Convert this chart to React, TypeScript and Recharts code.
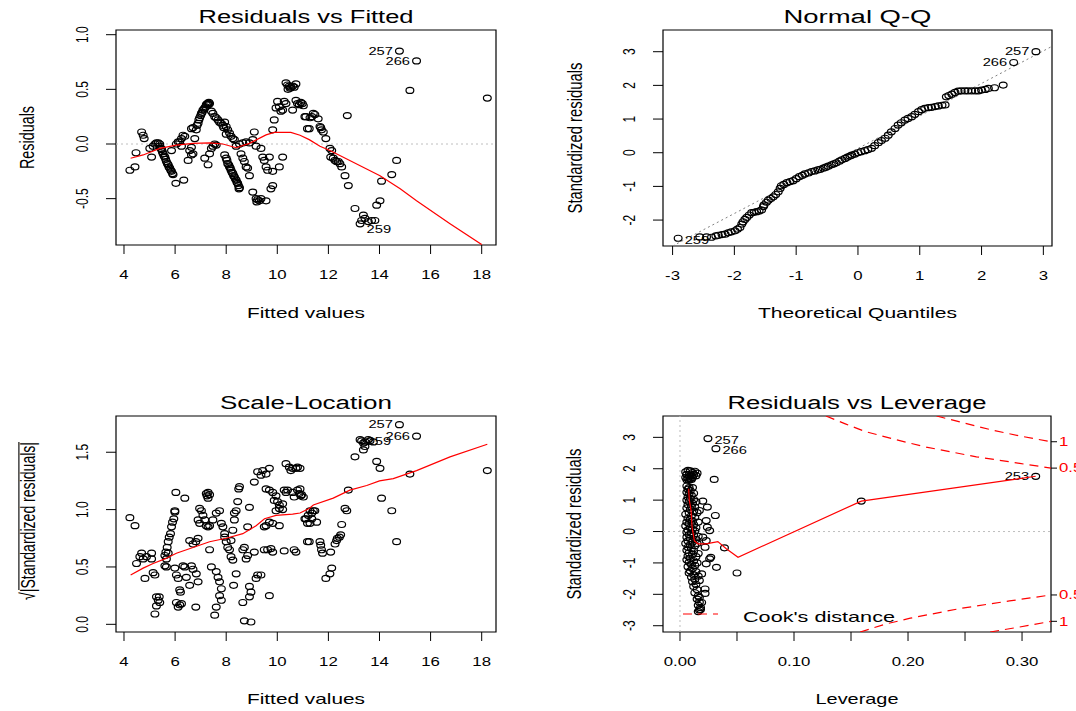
import React from "react";
import { ReferenceArea, ReferenceLine, Scatter, ScatterChart, XAxis, YAxis } from "recharts";

const W = 1076;
const H = 711;
const FONT = "'Liberation Sans', Arial, Helvetica, sans-serif";
const SX = 1.4; // the reference is stretched horizontally

// ---- Residuals vs Fitted: [fitted, residual]
const rvfPoints: [number, number][] = [
  [4.23, -0.24], [4.43, -0.21], [4.47, -0.08], [4.69, 0.11], [4.75, 0.08], [4.79, 0.05], [5.08, -0.12],
  [5.01, -0.04], [5.14, -0.02], [5.21, 0.0], [5.27, 0.01], [5.34, 0.01], [5.4, 0.0],
  [5.4, -0.02], [5.45, -0.04], [5.47, -0.05], [5.5, -0.07], [5.53, -0.09], [5.57, -0.11], [5.6, -0.12], [5.63, -0.14],
  [5.66, -0.16], [5.7, -0.18], [5.73, -0.19], [5.76, -0.21], [5.79, -0.22], [5.83, -0.24], [5.86, -0.25], [5.9, -0.27], [5.92, -0.28],
  [6.03, -0.36], [6.34, -0.33],
  [5.86, -0.06], [6.05, 0.0], [6.12, 0.02], [6.18, 0.02], [6.25, 0.05], [6.31, 0.08], [6.38, 0.07], [6.25, -0.02],
  [6.51, -0.15], [6.64, -0.1], [6.7, -0.09], [6.57, -0.06], [6.64, -0.03], [6.64, 0.14], [6.7, 0.15],
  [6.77, 0.05], [6.83, 0.13], [6.86, 0.17], [6.9, 0.19], [6.93, 0.22], [6.96, 0.24], [7.0, 0.26], [7.03, 0.28], [7.06, 0.29],
  [7.09, 0.31], [7.13, 0.32], [7.16, 0.33], [7.2, 0.34], [7.22, 0.36], [7.26, 0.37], [7.29, 0.37], [7.32, 0.38], [7.35, 0.37], [7.3, 0.36],
  [7.16, -0.13], [7.29, -0.19], [7.35, -0.09], [7.42, -0.04], [7.48, -0.02], [7.55, 0.0], [7.61, -0.01],
  [7.42, 0.3], [7.48, 0.28], [7.55, 0.25], [7.61, 0.24], [7.68, 0.22], [7.74, 0.2], [7.81, 0.19], [7.87, 0.17], [7.94, 0.2],
  [8.0, 0.16], [7.9, 0.15], [8.06, 0.13], [8.13, 0.1], [8.19, 0.07], [8.26, 0.05], [8.32, 0.04], [8.0, 0.09],
  [7.94, -0.1], [8.0, -0.13], [8.03, -0.15], [8.06, -0.18], [8.1, -0.19], [8.13, -0.21], [8.16, -0.22], [8.19, -0.24], [8.23, -0.26],
  [8.26, -0.27], [8.29, -0.29], [8.32, -0.3], [8.36, -0.32], [8.39, -0.33], [8.42, -0.35], [8.45, -0.36], [8.48, -0.38], [8.52, -0.4], [8.5, -0.41],
  [8.39, -0.02], [8.52, 0.0], [8.65, 0.01], [8.78, 0.02], [8.91, 0.01], [9.04, 0.04], [9.1, 0.11],
  [8.58, -0.09], [8.65, -0.13], [8.71, -0.16], [8.78, -0.21], [8.84, -0.22], [8.91, -0.29],
  [9.04, -0.44], [9.17, -0.5], [9.23, -0.51], [9.3, -0.52], [9.36, -0.5], [9.56, -0.52], [9.2, -0.53],
  [9.43, -0.12], [9.49, -0.15], [9.56, -0.21], [9.62, -0.24], [9.69, -0.12], [9.82, -0.25],
  [9.82, -0.38], [9.75, -0.41], [9.36, -0.04], [9.17, -0.02],
  [9.82, 0.13], [9.88, 0.22], [9.95, 0.33], [10.01, 0.39], [10.08, 0.34], [10.14, 0.3], [10.21, 0.31], [10.27, 0.39], [10.34, 0.37],
  [10.21, -0.12], [10.08, -0.21],
  [10.34, 0.56], [10.4, 0.54], [10.47, 0.53], [10.53, 0.52], [10.6, 0.53], [10.66, 0.52], [10.73, 0.55], [10.5, 0.51], [10.42, 0.5],
  [10.73, 0.4], [10.79, 0.37], [10.86, 0.36], [10.6, 0.31], [11.12, 0.25], [11.18, 0.14],
  [10.92, 0.38], [10.98, 0.37], [11.02, 0.35], [11.08, 0.25], [11.25, 0.14], [11.28, 0.24], [11.35, 0.25], [11.41, 0.28],
  [11.47, 0.27], [11.6, 0.23], [11.67, 0.16], [11.7, 0.15], [11.73, 0.13], [11.8, 0.11], [11.9, 0.05],
  [12.06, -0.04], [12.13, -0.06], [12.09, -0.12], [12.19, -0.13], [12.26, -0.15], [12.32, -0.16], [12.39, -0.16], [12.45, -0.18],
  [12.52, -0.21], [12.65, -0.29], [12.78, -0.38], [12.74, 0.26],
  [13.04, -0.59], [13.3, -0.7], [13.37, -0.65], [13.43, -0.68], [13.56, -0.71], [13.69, -0.7], [13.82, -0.7], [13.89, -0.56], [14.02, -0.52],
  [14.08, -0.34], [14.48, -0.28], [14.67, -0.15], [15.19, 0.49], [18.22, 0.42],
];
const rvfOutliers: [number, number, string][] = [[14.78, 0.85, "257"], [15.45, 0.76, "266"], [13.24, -0.73, "259"]];
const rvfSmooth: [number, number][] = [
  [4.26, -0.13], [4.75, -0.1], [5.4, -0.04], [6.05, -0.01], [6.7, 0.005], [7.35, 0.01], [7.87, 0.0], [8.39, -0.034], [8.91, 0.006],
  [9.56, 0.083], [9.88, 0.107], [10.53, 0.107], [10.89, 0.08], [11.25, 0.04], [11.67, -0.02], [12.06, -0.06], [14.02, -0.29],
  [14.81, -0.41], [15.45, -0.52], [16.76, -0.73], [18.0, -0.92],
];

// ---- Normal Q-Q: [theoretical quantile, standardized residual]
const qqPoints: [number, number][] = [
  [-2.56, -2.5], [-2.45, -2.5], [-2.37, -2.51], [-2.3, -2.47], [-2.26, -2.45], [-2.2, -2.43], [-2.15, -2.42], [-2.1, -2.38], [-2.05, -2.35],
  [-1.99, -2.32], [-1.95, -2.27], [-1.91, -2.22], [-1.88, -2.12], [-1.86, -2.05], [-1.83, -1.98], [-1.8, -1.92], [-1.76, -1.85],
  [-1.72, -1.78], [-1.68, -1.77], [-1.64, -1.75], [-1.6, -1.73], [-1.56, -1.7], [-1.53, -1.6], [-1.52, -1.55], [-1.48, -1.47],
  [-1.45, -1.41], [-1.41, -1.36], [-1.37, -1.31], [-1.33, -1.24], [-1.29, -1.16], [-1.26, -1.06], [-1.24, -0.98], [-1.2, -0.94],
  [-1.15, -0.89], [-1.1, -0.86], [-1.05, -0.83], [-1.0, -0.77], [-0.95, -0.71], [-0.9, -0.67], [-0.86, -0.63], [-0.8, -0.6],
  [-0.75, -0.56], [-0.7, -0.54], [-0.65, -0.51], [-0.61, -0.49], [-0.56, -0.46], [-0.52, -0.43], [-0.48, -0.4], [-0.43, -0.36],
  [-0.39, -0.33], [-0.35, -0.3], [-0.3, -0.25], [-0.26, -0.21], [-0.21, -0.17], [-0.17, -0.13], [-0.13, -0.1], [-0.1, -0.07],
  [-0.05, -0.04], [0.0, 0.0], [0.05, 0.03], [0.11, 0.06], [0.16, 0.09], [0.22, 0.13], [0.27, 0.21], [0.33, 0.3], [0.38, 0.36],
  [0.44, 0.43], [0.49, 0.52], [0.54, 0.62], [0.6, 0.72], [0.65, 0.82], [0.7, 0.89], [0.76, 0.97], [0.81, 1.02], [0.87, 1.07],
  [0.92, 1.14], [0.98, 1.22], [1.03, 1.28], [1.08, 1.32], [1.14, 1.34], [1.19, 1.35], [1.25, 1.37], [1.3, 1.39], [1.36, 1.41],
  [1.41, 1.42], [1.43, 1.66], [1.47, 1.7], [1.52, 1.74], [1.57, 1.79], [1.62, 1.83], [1.67, 1.84], [1.73, 1.84], [1.78, 1.84],
  [1.84, 1.84], [1.9, 1.84], [1.95, 1.84], [2.0, 1.86], [2.06, 1.88], [2.11, 1.91], [2.21, 1.93], [2.35, 2.01],
];
const qqOutliers: [number, number, string][] = [[2.88, 3.0, "257"], [2.52, 2.68, "266"], [-2.91, -2.54, "259"]];
const qqLine: [number, number][] = [[-3.0, -2.77], [3.14, 3.16]];

// ---- Scale-Location: [fitted, sqrt(|standardized residual|)]
const slPoints: [number, number][] = [
  [4.23, 0.93], [4.43, 0.86], [4.49, 0.53], [4.69, 0.62], [4.75, 0.57], [4.88, 0.59], [5.08, 0.62], [5.08, 0.57], [4.62, 0.59],
  [4.82, 0.4], [5.14, 0.45], [5.21, 0.43], [5.27, 0.24], [5.34, 0.21], [5.4, 0.19], [5.27, 0.16], [5.21, 0.09], [5.38, 0.24],
  [5.6, 0.6], [5.64, 0.63], [5.69, 0.67], [5.73, 0.72], [5.77, 0.76], [5.82, 0.79], [5.86, 0.85], [5.9, 0.89], [5.95, 0.92],
  [5.99, 0.98], [5.99, 0.99], [5.66, 0.57], [5.73, 0.62], [5.6, 0.51], [5.66, 0.5],
  [5.99, 0.49], [6.05, 0.43], [6.12, 0.4], [6.18, 0.3], [6.21, 0.28], [6.25, 0.18], [6.12, 0.15], [6.18, 0.17], [6.05, 0.19],
  [6.03, 1.15], [6.38, 1.1], [6.38, 0.5], [6.44, 0.41], [6.57, 0.34], [6.31, 0.51], [6.64, 0.51], [6.7, 0.48], [6.83, 0.44], [6.9, 0.37],
  [6.81, 0.15], [6.57, 0.73], [6.7, 0.7], [6.81, 0.72], [6.9, 0.75], [6.96, 1.01], [7.03, 0.99], [7.09, 0.95], [7.16, 0.91],
  [7.22, 0.86], [7.29, 0.85], [7.35, 0.86], [6.9, 0.91], [6.96, 0.88],
  [7.22, 1.14], [7.29, 1.15], [7.35, 1.13], [7.29, 1.1], [7.25, 1.12],
  [7.35, 0.65], [7.48, 0.91], [7.61, 0.97], [7.74, 0.99], [7.81, 0.88], [7.87, 0.85], [7.94, 0.79],
  [7.42, 0.5], [7.61, 0.46], [7.68, 0.41], [7.74, 0.37], [7.81, 0.31], [7.74, 0.25], [7.81, 0.21], [7.61, 0.15], [7.55, 0.08],
  [7.94, 0.76], [8.0, 0.72], [8.06, 0.67], [8.13, 0.65], [8.19, 0.59], [8.26, 0.56],
  [8.19, 0.73], [8.26, 0.82], [8.32, 0.91], [8.32, 0.97], [8.39, 0.99], [8.45, 1.07], [8.52, 1.2], [8.49, 1.18],
  [8.29, 0.34], [8.39, 0.44], [8.65, 0.19], [8.71, 0.03], [8.97, 0.02],
  [8.65, 0.65], [8.71, 0.67], [8.78, 0.57], [8.84, 0.6], [8.91, 1.02], [8.84, 0.85],
  [9.1, 1.24], [9.23, 1.33], [9.43, 1.34], [9.56, 1.31], [9.69, 1.36], [9.36, 1.3],
  [9.1, 0.63], [9.17, 0.4], [9.23, 0.43], [9.36, 0.43], [8.91, 0.33], [8.97, 0.28], [8.91, 0.24],
  [9.49, 0.65], [9.62, 0.65], [9.75, 0.66], [9.82, 0.63], [9.69, 0.25], [10.27, 0.64],
  [9.56, 1.18], [9.69, 1.17], [9.82, 1.15], [9.95, 1.12], [9.88, 1.08], [10.01, 1.07], [10.08, 1.04], [10.21, 1.05], [10.27, 1.17],
  [10.34, 1.15], [10.4, 1.17], [10.6, 1.15], [10.66, 1.11], [9.95, 0.99], [10.08, 1.01], [10.21, 1.0],
  [9.49, 0.85], [9.56, 0.86], [9.69, 0.89], [9.82, 0.88], [10.08, 0.86],
  [10.34, 1.4], [10.47, 1.37], [10.6, 1.36], [10.53, 1.34], [10.73, 1.36], [10.79, 1.37],
  [10.79, 1.17], [10.86, 1.14], [10.92, 1.12], [10.66, 0.65], [10.73, 0.63], [11.12, 0.92], [11.18, 0.88], [11.18, 0.72],
  [10.89, 1.36], [10.89, 1.18], [10.95, 1.13], [11.02, 1.11],
  [11.28, 0.99], [11.35, 0.97], [11.41, 0.99], [11.47, 0.99], [11.08, 0.92], [11.28, 0.88], [11.54, 0.89], [11.21, 0.95], [11.35, 0.92],
  [11.25, 0.72], [11.67, 0.72], [11.7, 0.69], [11.73, 0.65], [11.77, 0.62], [12.09, 0.63], [12.13, 0.49], [12.06, 0.44], [11.9, 0.4],
  [12.26, 0.7], [12.35, 0.75], [12.43, 0.76], [12.48, 0.78], [12.32, 0.73], [12.52, 0.87],
  [12.65, 1.01], [12.72, 0.99], [12.78, 1.17], [13.04, 1.46],
  [13.3, 1.6], [13.37, 1.58], [13.43, 1.55], [13.37, 1.52], [13.56, 1.61], [13.63, 1.6], [13.76, 1.59], [13.43, 1.59],
  [13.89, 1.42], [14.02, 1.36], [14.08, 1.1], [14.48, 0.99], [14.67, 0.72], [15.19, 1.31], [18.22, 1.34],
];
const slOutliers: [number, number, string][] = [[14.78, 1.74, "257"], [15.45, 1.64, "266"], [13.24, 1.61, "259"]];
const slSmooth: [number, number][] = [
  [4.26, 0.43], [4.75, 0.49], [5.14, 0.53], [5.6, 0.57], [6.05, 0.62], [6.7, 0.67], [7.35, 0.72], [8.0, 0.75], [8.65, 0.79],
  [9.17, 0.86], [9.5, 0.92], [9.95, 0.95], [10.6, 0.96], [10.89, 0.97], [11.25, 1.01], [11.41, 1.04], [12.19, 1.1], [12.84, 1.17],
  [13.5, 1.21], [14.0, 1.25], [14.54, 1.27], [15.45, 1.34], [16.76, 1.46], [18.22, 1.57],
];

// ---- Residuals vs Leverage: [leverage, standardized residual]
const levPoints: [number, number][] = [
  [0.005, 1.9], [0.007, 1.95], [0.009, 1.93], [0.011, 1.88], [0.013, 1.92], [0.006, 1.82], [0.008, 1.8], [0.01, 1.78], [0.012, 1.82],
  [0.014, 1.78], [0.005, 1.72], [0.007, 1.7], [0.009, 1.68], [0.011, 1.72], [0.006, 1.65], [0.008, 1.63], [0.01, 1.66], [0.015, 1.86],
  [0.006, 1.45], [0.008, 1.4], [0.007, 1.35], [0.009, 1.3], [0.006, 1.25], [0.008, 1.2], [0.01, 1.15], [0.007, 1.1], [0.009, 1.05],
  [0.012, 1.02], [0.006, 1.0], [0.008, 0.95], [0.011, 0.9], [0.007, 0.85], [0.01, 0.8], [0.013, 0.78], [0.006, 0.75], [0.009, 0.7],
  [0.012, 0.65], [0.008, 0.6], [0.005, 0.55], [0.01, 0.5], [0.013, 0.45], [0.007, 0.42], [0.009, 0.38], [0.011, 0.33], [0.006, 0.3],
  [0.008, 0.25], [0.012, 0.22], [0.005, 0.18], [0.009, 0.12], [0.011, 0.08], [0.007, 0.05], [0.013, 0.02], [0.006, -0.02], [0.01, -0.05],
  [0.011, 1.4], [0.012, 1.22], [0.014, 0.95], [0.015, 0.6], [0.016, 0.3], [0.014, 0.12], [0.016, -0.15], [0.015, -0.38],
  [0.008, -0.1], [0.012, -0.12], [0.006, -0.18], [0.009, -0.22], [0.014, -0.25], [0.007, -0.3], [0.011, -0.33], [0.005, -0.38],
  [0.009, -0.42], [0.013, -0.45], [0.007, -0.5], [0.01, -0.55], [0.006, -0.6], [0.012, -0.62], [0.008, -0.68], [0.011, -0.72],
  [0.007, -0.78], [0.014, -0.8], [0.009, -0.85], [0.006, -0.9], [0.012, -0.93], [0.008, -0.98], [0.01, -1.05], [0.013, -1.08],
  [0.007, -1.12], [0.011, -1.18], [0.009, -1.25], [0.014, -1.28], [0.008, -1.32], [0.012, -1.38], [0.01, -1.45], [0.013, -1.52],
  [0.011, -1.6], [0.014, -1.68], [0.012, -1.75], [0.015, -1.85], [0.013, -1.95], [0.016, -2.05], [0.015, -2.15], [0.017, -2.25],
  [0.016, -2.35], [0.018, -2.42], [0.017, -2.5], [0.016, -2.55], [0.018, -2.48], [0.016, -0.7], [0.015, -1.0], [0.016, -1.42],
  [0.02, 0.97], [0.017, 0.67], [0.024, 0.78], [0.031, 0.51], [0.023, 0.35], [0.024, 0.14], [0.026, 0.03], [0.02, -0.18],
  [0.023, -0.29], [0.022, -0.5], [0.027, -0.82], [0.026, -0.87], [0.023, -1.03], [0.019, -1.35], [0.017, -1.56], [0.022, -1.83],
  [0.022, -1.97], [0.017, -2.1], [0.019, -2.26], [0.03, 1.66], [0.039, -0.52], [0.032, -1.14], [0.05, -1.32], [0.159, 0.97],
];
const levOutliers: [number, number, string][] = [[0.0245, 2.96, "257"], [0.0315, 2.64, "266"], [0.312, 1.76, "253"]];
const levSmooth: [number, number][] = [
  [0.0076, 1.36], [0.0082, 0.99], [0.0097, 0.67], [0.0106, 0.14], [0.0126, -0.29], [0.0156, -0.39], [0.0229, -0.39],
  [0.0332, -0.32], [0.0406, -0.55], [0.0509, -0.82], [0.159, 0.97], [0.312, 1.76],
];
// Cook's distance contours
const cookHalfUpper: [number, number][] = [
  [0.128, 3.68], [0.145, 3.43], [0.162, 3.19], [0.19, 2.92], [0.216, 2.69], [0.24, 2.52], [0.26, 2.38], [0.28, 2.27], [0.298, 2.17], [0.3254, 2.02],
];
const cookOneUpper: [number, number][] = [[0.225, 3.68], [0.25, 3.45], [0.275, 3.22], [0.3, 3.03], [0.3254, 2.86]];
const cookHalfLower: [number, number][] = [[0.158, -3.2], [0.18, -2.95], [0.202, -2.76], [0.246, -2.45], [0.289, -2.21], [0.3254, -2.02]];
const cookOneLower: [number, number][] = [[0.272, -3.2], [0.298, -3.04], [0.3254, -2.86]];
const cookTicks = [2.86, 2.02, -2.02, -2.86];
const cookTickLabels = ["1", "0.5", "0.5", "1"];

// ---- axes
const fittedTicks = [4, 6, 8, 10, 12, 14, 16, 18];
const residTicks = [-0.5, 0, 0.5, 1];
const qqXTicks = [-3, -2, -1, 0, 1, 2, 3];
const qqYTicks = [-2, -1, 0, 1, 2, 3];
const slYTicks = [0, 0.5, 1, 1.5];
const levXTicks = [0, 0.05, 0.1, 0.15, 0.2, 0.25, 0.3];
const levYTicks = [-3, -2, -1, 0, 1, 2, 3];

const xy = (pts: [number, number][]) => pts.map(([x, y]) => ({ x, y }));
const xyl = (pts: [number, number, string][]) => pts.map(([x, y, id]) => ({ x, y, id }));

const RED = "#ff0000";
const RX = 3.9;
const RY = 3.0;

function OpenCircle(props: any) {
  const { cx, cy } = props;
  if (cx == null || cy == null) return <g />;
  return <ellipse cx={cx} cy={cy} rx={RX} ry={RY} fill="none" stroke="#000" strokeWidth={1.2} />;
}
const NoDot = () => <g />;

type LabelPlace = Record<string, { side: "left" | "right"; dy?: number }>;
function labelled(place: LabelPlace) {
  return (props: any) => {
    const { cx, cy, payload } = props;
    if (cx == null || cy == null) return <g />;
    const p = place[payload.id] || { side: "left" };
    const dx = p.side === "left" ? -6.5 : 6.5;
    return (
      <g>
        <ellipse cx={cx} cy={cy} rx={RX} ry={RY} fill="none" stroke="#000" strokeWidth={1.2} />
        <text
          transform={`translate(${cx + dx} ${cy + (p.dy || 0)}) scale(${SX} 1)`}
          textAnchor={p.side === "left" ? "end" : "start"}
          dy="0.35em"
          fontSize={10.5}
          fontFamily={FONT}
          fill="#000"
        >
          {payload.id}
        </text>
      </g>
    );
  };
}

const xTick = (fmt: (v: number) => string) => (p: any) => (
  <text transform={`translate(${p.x} ${p.y}) scale(${SX} 1)`} textAnchor="middle" dy="0.35em" fontSize={12} fontFamily={FONT} fill="#000">
    {fmt(p.payload.value)}
  </text>
);
const yTick = (fmt: (v: number) => string) => (p: any) => (
  <text transform={`translate(${p.x} ${p.y}) scale(${SX} 1) rotate(-90)`} textAnchor="middle" dy="0.35em" fontSize={12} fontFamily={FONT} fill="#000">
    {fmt(p.payload.value)}
  </text>
);
const cookTick = (p: any) => (
  <text transform={`translate(${p.x} ${p.y}) scale(${SX} 1)`} textAnchor="start" dy="0.35em" fontSize={12} fontFamily={FONT} fill={RED}>
    {cookTickLabels[cookTicks.indexOf(p.payload.value)]}
  </text>
);

const int = (v: number) => String(v);
const one = (v: number) => v.toFixed(1);
const lev = (v: number) => (Math.round(v * 100) % 10 === 0 ? v.toFixed(2) : "");

type PanelProps = {
  box: [number, number, number, number];
  xDomain: [number, number];
  yDomain: [number, number];
  xTicks: number[];
  yTicks: number[];
  xFmt: (v: number) => string;
  yFmt: (v: number) => string;
  cook?: boolean;
  children: React.ReactNode;
};

function Panel({ box, xDomain, yDomain, xTicks, yTicks, xFmt, yFmt, cook, children }: PanelProps) {
  const [x0, x1, y0, y1] = box;
  const yW = 40;
  const xH = 36;
  const rW = cook ? 25 : 0;
  return (
    <div style={{ position: "absolute", left: 0, top: 0 }}>
      <ScatterChart width={W} height={H} margin={{ left: x0 - yW, right: W - x1 - rW, top: y0, bottom: H - y1 - xH }}>
        <XAxis
          type="number"
          dataKey="x"
          domain={xDomain}
          allowDataOverflow
          ticks={xTicks}
          interval={0}
          tick={xTick(xFmt)}
          tickSize={9}
          tickMargin={21}
          axisLine={false}
          tickLine={{ stroke: "#000" }}
          height={xH}
        />
        <YAxis
          yAxisId="l"
          type="number"
          dataKey="y"
          domain={yDomain}
          allowDataOverflow
          ticks={yTicks}
          interval={0}
          tick={yTick(yFmt)}
          tickSize={10}
          tickMargin={24}
          axisLine={false}
          tickLine={{ stroke: "#000" }}
          width={yW}
        />
        {cook && (
          <YAxis
            yAxisId="r"
            orientation="right"
            type="number"
            dataKey="y"
            domain={yDomain}
            allowDataOverflow
            ticks={cookTicks}
            interval={0}
            tick={cookTick}
            tickSize={6}
            tickMargin={2}
            axisLine={false}
            tickLine={{ stroke: "#000" }}
            width={rW}
          />
        )}
        <ReferenceArea
          yAxisId="l"
          x1={xDomain[0]}
          x2={xDomain[1]}
          y1={yDomain[0]}
          y2={yDomain[1]}
          fill="none"
          fillOpacity={0}
          stroke="#000"
          strokeWidth={1.2}
          ifOverflow="visible"
        />
        {children}
      </ScatterChart>
    </div>
  );
}

const smoothLine = { stroke: RED, strokeWidth: 1.2 };
const cookLine = { stroke: RED, strokeWidth: 1.2, strokeDasharray: "9 6" };

const rvfLabels: LabelPlace = { "257": { side: "left" }, "266": { side: "left" }, "259": { side: "right", dy: 6 } };
const qqLabels: LabelPlace = { "257": { side: "left" }, "266": { side: "left" }, "259": { side: "right", dy: 2 } };
const slLabels: LabelPlace = { "257": { side: "left" }, "266": { side: "left" }, "259": { side: "right", dy: 2 } };
const levLabels: LabelPlace = { "257": { side: "right", dy: 2 }, "266": { side: "right", dy: 2 }, "253": { side: "left" } };

function HLabel({ x, y, text, size, len }: { x: number; y: number; text: string; size: number; len: number }) {
  return (
    <text x={x} y={y} dy="0.35em" textAnchor="middle" fontSize={size} textLength={len} lengthAdjust="spacingAndGlyphs" fill="#000">
      {text}
    </text>
  );
}
function VLabel({ x, y, text, len }: { x: number; y: number; text: string; len: number }) {
  return (
    <text
      transform={`translate(${x} ${y}) scale(${SX} 1) rotate(-90)`}
      dy="0.35em"
      textAnchor="middle"
      fontSize={15}
      textLength={len}
      lengthAdjust="spacingAndGlyphs"
      fill="#000"
    >
      {text}
    </text>
  );
}

function Overlay() {
  return (
    <svg width={W} height={H} style={{ position: "absolute", left: 0, top: 0, pointerEvents: "none" }} fontFamily={FONT}>
      <HLabel x={306} y={17} text="Residuals vs Fitted" size={18} len={215} />
      <HLabel x={857.5} y={17} text="Normal Q-Q" size={18} len={148} />
      <HLabel x={306} y={403} text="Scale-Location" size={18} len={172} />
      <HLabel x={857} y={403} text="Residuals vs Leverage" size={18} len={259} />
      <HLabel x={306} y={313} text="Fitted values" size={15} len={118} />
      <HLabel x={857.5} y={313} text="Theoretical Quantiles" size={15} len={199} />
      <HLabel x={306} y={699} text="Fitted values" size={15} len={118} />
      <HLabel x={857} y={699} text="Leverage" size={15} len={83} />
      <VLabel x={27} y={137.5} text="Residuals" len={63} />
      <VLabel x={575} y={138} text="Standardized residuals" len={151} />
      <VLabel x={574} y={524} text="Standardized residuals" len={151} />
      <g transform={`translate(28 521) scale(${SX} 1) rotate(-90)`}>
        <text dy="0.35em" textAnchor="middle" fontSize={15} textLength={158} lengthAdjust="spacingAndGlyphs" fill="#000">
          √|Standardized residuals|
        </text>
        <line x1={-69} x2={79} y1={-6.5} y2={-6.5} stroke="#000" strokeWidth={0.8} />
      </g>
      <line x1={683} x2={718} y1={614} y2={614} stroke={RED} strokeWidth={1.2} strokeDasharray="9 6" />
      <text x={743} y={617} dy="0.35em" fontSize={15} textLength={152} lengthAdjust="spacingAndGlyphs" fill="#000">
        Cook's distance
      </text>
    </svg>
  );
}

export default function App() {
  return (
    <div style={{ position: "absolute", left: 0, top: 0, width: W, height: H, background: "#fff", fontFamily: FONT }}>
      <Panel box={[116, 496, 30, 245]} xDomain={[3.687, 18.56]} yDomain={[-0.924, 1.043]} xTicks={fittedTicks} yTicks={residTicks} xFmt={int} yFmt={one}>
        <ReferenceLine yAxisId="l" y={0} stroke="#bebebe" strokeDasharray="2 3" />
        <Scatter yAxisId="l" data={xy(rvfPoints)} shape={OpenCircle} isAnimationActive={false} />
        <Scatter yAxisId="l" data={xyl(rvfOutliers)} shape={labelled(rvfLabels)} isAnimationActive={false} />
        <Scatter yAxisId="l" data={xy(rvfSmooth)} shape={NoDot} line={smoothLine} isAnimationActive={false} />
      </Panel>
      <Panel box={[663, 1052, 30, 246]} xDomain={[-3.155, 3.14]} yDomain={[-2.77, 3.645]} xTicks={qqXTicks} yTicks={qqYTicks} xFmt={int} yFmt={int}>
        <Scatter yAxisId="l" data={xy(qqLine)} shape={NoDot} line={{ stroke: "#808080", strokeWidth: 1, strokeDasharray: "2 3" }} isAnimationActive={false} />
        <Scatter yAxisId="l" data={xy(qqPoints)} shape={OpenCircle} isAnimationActive={false} />
        <Scatter yAxisId="l" data={xyl(qqOutliers)} shape={labelled(qqLabels)} isAnimationActive={false} />
      </Panel>
      <Panel box={[116, 496, 416, 632]} xDomain={[3.687, 18.56]} yDomain={[-0.067, 1.816]} xTicks={fittedTicks} yTicks={slYTicks} xFmt={int} yFmt={one}>
        <Scatter yAxisId="l" data={xy(slPoints)} shape={OpenCircle} isAnimationActive={false} />
        <Scatter yAxisId="l" data={xyl(slOutliers)} shape={labelled(slLabels)} isAnimationActive={false} />
        <Scatter yAxisId="l" data={xy(slSmooth)} shape={NoDot} line={smoothLine} isAnimationActive={false} />
      </Panel>
      <Panel box={[663, 1051, 416, 632]} xDomain={[-0.0149, 0.3254]} yDomain={[-3.2, 3.68]} xTicks={levXTicks} yTicks={levYTicks} xFmt={lev} yFmt={int} cook>
        <ReferenceLine yAxisId="l" y={0} stroke="#bebebe" strokeDasharray="2 3" />
        <ReferenceLine yAxisId="l" x={0} stroke="#bebebe" strokeDasharray="2 3" />
        <Scatter yAxisId="l" data={xy(levPoints)} shape={OpenCircle} isAnimationActive={false} />
        <Scatter yAxisId="l" data={xyl(levOutliers)} shape={labelled(levLabels)} isAnimationActive={false} />
        <Scatter yAxisId="l" data={xy(levSmooth)} shape={NoDot} line={smoothLine} isAnimationActive={false} />
        <Scatter yAxisId="l" data={xy(cookHalfUpper)} shape={NoDot} line={cookLine} isAnimationActive={false} />
        <Scatter yAxisId="l" data={xy(cookOneUpper)} shape={NoDot} line={cookLine} isAnimationActive={false} />
        <Scatter yAxisId="l" data={xy(cookHalfLower)} shape={NoDot} line={cookLine} isAnimationActive={false} />
        <Scatter yAxisId="l" data={xy(cookOneLower)} shape={NoDot} line={cookLine} isAnimationActive={false} />
      </Panel>
      <Overlay />
    </div>
  );
}
